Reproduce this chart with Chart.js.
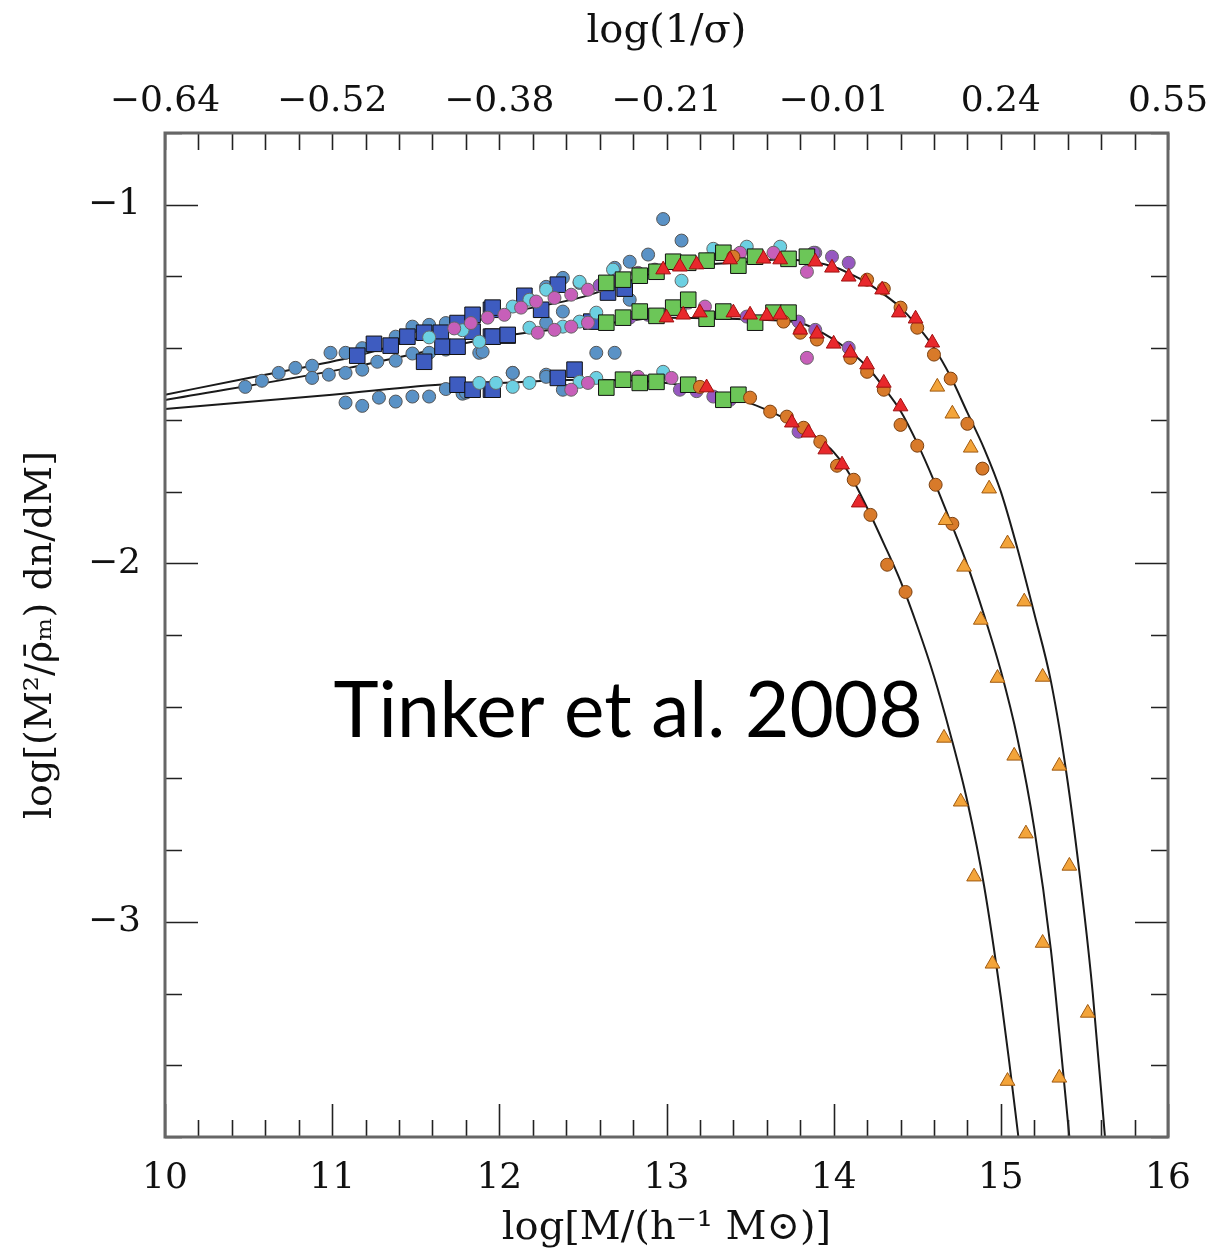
<!DOCTYPE html>
<html>
<head>
<meta charset="utf-8">
<script src="https://cdn.jsdelivr.net/npm/chart.js@4.4.1/dist/chart.umd.min.js"></script>
<style>
  body { margin: 0; background: #fff; }
  #wrap { width: 1217px; height: 1255px; }
</style>
</head>
<body>
<div id="wrap"><canvas id="hmf" width="1217" height="1255"></canvas></div>
<script>
// axis labels
var sigmaTickLabels = ['\u22120.64', '\u22120.52', '\u22120.38', '\u22120.21', '\u22120.01', '0.24', '0.55'];

// model curves  [log M, log f]
var curveTop = [[10,-1.53],[10.5,-1.483],[11.1,-1.427],[12,-1.307],[12.5,-1.257],[13,-1.181],[13.5,-1.159],[13.7,-1.153],
  [14.0,-1.173],[14.1,-1.193],[14.2,-1.218],[14.3,-1.25],[14.4,-1.287],[14.5,-1.338],[14.6,-1.399],[14.7,-1.48],
  [14.8,-1.58],[14.9,-1.68],[15.0,-1.8],[15.1,-1.96],[15.2,-2.14],[15.3,-2.33],[15.4,-2.61],[15.5,-2.98],
  [15.55,-3.2],[15.623,-3.6]];
var curveMid = [[10,-1.545],[11.1,-1.455],[12,-1.368],[12.5,-1.34],[13,-1.315],[13.5,-1.32],[13.8,-1.33],[14.0,-1.376],
  [14.1,-1.41],[14.2,-1.452],[14.3,-1.51],[14.4,-1.575],[14.5,-1.665],[14.6,-1.77],[14.7,-1.885],[14.8,-2.005],
  [14.9,-2.145],[15.0,-2.30],[15.1,-2.49],[15.2,-2.74],[15.3,-3.08],[15.35,-3.31],[15.41,-3.6]];
var curveLow = [[10,-1.57],[11,-1.53],[11.7,-1.50],[12,-1.497],[12.5,-1.488],[13,-1.497],[13.3,-1.524],[13.6,-1.572],
  [13.8,-1.62],[13.9,-1.65],[14.0,-1.69],[14.1,-1.755],[14.2,-1.845],[14.3,-1.945],[14.4,-2.05],[14.5,-2.175],
  [14.6,-2.315],[14.7,-2.48],[14.8,-2.665],[14.9,-2.90],[15.0,-3.21],[15.05,-3.39],[15.105,-3.6]];

// simulation points
var steelBlueCircles = [[10.48,-1.508],[10.58,-1.491],[10.68,-1.469],[10.78,-1.455],[10.88,-1.449],[10.88,-1.483],
  [10.99,-1.413],[10.98,-1.474],[11.08,-1.413],[11.08,-1.469],[11.18,-1.40],[11.18,-1.46],[11.27,-1.438],
  [11.38,-1.368],[11.38,-1.435],[11.48,-1.34],[11.48,-1.415],[11.58,-1.335],[11.58,-1.413],[11.68,-1.33],
  [11.68,-1.404],[11.08,-1.552],[11.18,-1.561],[11.28,-1.538],[11.38,-1.549],[11.48,-1.535],[11.58,-1.535],
  [11.68,-1.514],[11.78,-1.527],[11.88,-1.413],[11.9,-1.41],[11.8,-1.524],[12.08,-1.469],[12.28,-1.474],
  [12.38,-1.516],[12.08,-1.469],[12.28,-1.48],[12.28,-1.329],[12.38,-1.298],[12.28,-1.229],[12.38,-1.204],
  [12.48,-1.218],[12.69,-1.176],[12.78,-1.159],[12.78,-1.265],[12.89,-1.139],[12.98,-1.04],[13.09,-1.10],
  [12.58,-1.413],[12.69,-1.413]];
var blueSquares = [[11.15,-1.421],[11.25,-1.388],[11.35,-1.393],[11.45,-1.368],[11.55,-1.357],[11.65,-1.357],
  [11.75,-1.33],[11.84,-1.307],[11.95,-1.293],[11.55,-1.438],[11.66,-1.396],[11.75,-1.396],[11.84,-1.354],
  [11.95,-1.368],[12.05,-1.365],[11.75,-1.502],[11.84,-1.516],[11.95,-1.516],[11.96,-1.287],[12.15,-1.254],
  [12.25,-1.293],[12.35,-1.223],[12.65,-1.245],[12.75,-1.234],[11.96,-1.368],[12.05,-1.363],[12.55,-1.326],
  [11.96,-1.516],[12.35,-1.483],[12.45,-1.46]];
var cyanCircles = [[12.08,-1.284],[12.18,-1.265],[12.28,-1.237],[12.48,-1.215],[12.68,-1.181],[13.09,-1.212],
  [13.28,-1.123],[13.48,-1.117],[13.68,-1.117],[11.88,-1.382],[12.18,-1.343],[12.38,-1.34],[12.48,-1.326],
  [12.58,-1.301],[13.08,-1.293],[11.88,-1.497],[12.08,-1.508],[12.18,-1.497],[12.48,-1.494],[12.58,-1.483],
  [12.98,-1.466],[11.98,-1.497],[11.78,-1.35],[11.58,-1.37]];
var magentaCircles = [[11.93,-1.315],[12.03,-1.307],[12.13,-1.287],[12.22,-1.27],[12.33,-1.26],[12.43,-1.251],
  [12.53,-1.237],[12.83,-1.19],[12.93,-1.181],[13.44,-1.134],[13.64,-1.134],[13.84,-1.187],[12.23,-1.357],
  [12.33,-1.349],[12.43,-1.34],[12.53,-1.329],[13.13,-1.273],[13.23,-1.284],[13.84,-1.427],[12.43,-1.516],
  [12.53,-1.497],[12.83,-1.48],[13.03,-1.483],[11.83,-1.33],[11.73,-1.345]];
var purpleCircles = [[13.89,-1.134],[13.99,-1.145],[14.09,-1.162],[13.24,-1.153],[13.88,-1.134],[13.79,-1.326],
  [13.89,-1.349],[14.09,-1.399],[12.78,-1.315],[12.89,-1.307],[13.48,-1.312],[13.08,-1.516],[13.18,-1.52],
  [13.28,-1.535],[13.38,-1.544],[13.79,-1.633],[12.7,-1.21],[12.6,-1.225]];
var greenSquares = [[12.64,-1.218],[12.74,-1.209],[12.84,-1.198],[12.94,-1.187],[13.04,-1.159],[13.13,-1.162],
  [13.24,-1.156],[13.34,-1.134],[13.43,-1.170],[13.53,-1.145],[13.73,-1.151],[13.84,-1.145],[12.64,-1.329],
  [12.74,-1.315],[12.84,-1.298],[12.94,-1.31],[13.04,-1.287],[13.13,-1.265],[13.24,-1.318],[13.34,-1.298],
  [13.53,-1.329],[13.64,-1.301],[13.73,-1.301],[12.64,-1.51],[12.74,-1.488],[12.84,-1.497],[12.94,-1.494],
  [13.13,-1.502],[13.34,-1.544],[13.43,-1.53]];
var redTriangles = [[12.98,-1.181],[13.08,-1.173],[13.18,-1.167],[13.38,-1.153],[13.58,-1.151],[13.68,-1.153],
  [13.89,-1.159],[13.99,-1.176],[14.09,-1.201],[14.19,-1.215],[14.29,-1.237],[14.39,-1.301],[14.49,-1.318],
  [14.59,-1.385],[13.0,-1.315],[13.1,-1.307],[13.2,-1.301],[13.4,-1.301],[13.5,-1.307],[13.6,-1.31],
  [13.68,-1.307],[13.8,-1.349],[13.9,-1.36],[14.0,-1.388],[14.1,-1.413],[14.2,-1.446],[14.3,-1.497],
  [14.4,-1.563],[13.24,-1.51],[13.75,-1.608],[13.85,-1.636],[13.95,-1.683],[14.05,-1.725],[14.15,-1.831]];
var orangeCircles = [[14.2,-1.209],[14.3,-1.234],[14.4,-1.287],[14.5,-1.343],[14.6,-1.418],[14.7,-1.485],
  [14.8,-1.611],[14.89,-1.736],[14.61,-1.781],[14.71,-1.89],[13.7,-1.326],[13.8,-1.357],[13.9,-1.376],
  [14.1,-1.427],[14.2,-1.466],[14.3,-1.516],[14.4,-1.614],[14.5,-1.672],[13.72,-1.591],[13.82,-1.622],
  [13.92,-1.661],[14.02,-1.728],[14.12,-1.767],[14.22,-1.865],[14.32,-2.004],[14.43,-2.08],[13.4,-1.145],
  [13.2,-1.508],[13.5,-1.538],[13.62,-1.577]];
var lightOrangeTriangles = [[14.62,-1.508],[14.71,-1.583],[14.82,-1.678],[14.93,-1.792],[14.67,-1.88],
  [15.04,-1.945],[14.78,-2.01],[15.14,-2.107],[14.88,-2.158],[14.98,-2.32],[15.25,-2.317],[14.66,-2.487],
  [15.08,-2.537],[15.35,-2.565],[14.76,-2.665],[15.15,-2.754],[15.41,-2.844],[14.84,-2.874],[15.25,-3.059],
  [14.95,-3.117],[15.52,-3.254],[15.04,-3.444],[15.35,-3.435]];

function pts(arr) {
  return arr.map(function(p) { return { x: p[0], y: p[1] }; });
}

function lineSet(arr) {
  return {
    type: 'line', data: pts(arr), borderColor: '#1a1a1a', borderWidth: 2,
    pointRadius: 0, cubicInterpolationMode: 'monotone', fill: false, order: 20
  };
}

function pointSet(arr, style, fill, edge, r, ord) {
  return {
    type: 'scatter', data: pts(arr), pointStyle: style, backgroundColor: fill,
    borderColor: edge, borderWidth: 1, pointRadius: r, pointHoverRadius: r, order: ord
  };
}

var serif = '"DejaVu Serif", "Liberation Serif", serif';

function noSidePad(s) {
  s.paddingLeft = 0;
  s.paddingRight = 0;
}

// inward tick marks and frame, from the scales
var frameTicks = {
  id: 'frameTicks',
  afterDatasetsDraw: function(chart) {
    var ctx = chart.ctx, a = chart.chartArea;
    var xs = chart.scales.x, ys = chart.scales.y;
    ctx.save();
    ctx.strokeStyle = '#222';
    ctx.lineWidth = 1.6;
    ctx.beginPath();
    for (var i = 0; i <= 30; i++) {
      var v = 10 + i * 0.2;
      var px = Math.round(xs.getPixelForValue(v)) + 0.5;
      var major = (i % 5 === 0);
      ctx.moveTo(px, a.bottom); ctx.lineTo(px, a.bottom - (major ? 33 : 17));
      ctx.moveTo(px, a.top); ctx.lineTo(px, a.top + 17);
    }
    for (var j = 0; j <= 14; j++) {
      var w = -3.6 + j * 0.2;
      var py = Math.round(ys.getPixelForValue(w)) + 0.5;
      var maj = Math.abs(w - Math.round(w)) < 1e-6;
      ctx.moveTo(a.left, py); ctx.lineTo(a.left + (maj ? 33 : 17), py);
      ctx.moveTo(a.right, py); ctx.lineTo(a.right - (maj ? 33 : 17), py);
    }
    ctx.stroke();
    ctx.strokeStyle = '#666';
    ctx.lineWidth = 3;
    ctx.strokeRect(a.left, a.top, a.right - a.left, a.bottom - a.top);

    // label text
    var tx = xs.getPixelForValue(12.77), ty = ys.getPixelForValue(-2.417);
    ctx.font = '80px Lato, "Open Sans", sans-serif';
    var size = 80 * 589 / ctx.measureText('Tinker et al. 2008').width;
    ctx.font = size + 'px Lato, "Open Sans", sans-serif';
    ctx.fillStyle = '#000';
    ctx.textAlign = 'center';
    ctx.textBaseline = 'middle';
    ctx.fillText('Tinker et al. 2008', tx, ty);
    ctx.restore();
  }
};

var datasets = [
  pointSet(steelBlueCircles, 'circle', '#5a92c6', '#555', 6.5, 9),
  pointSet(blueSquares, 'rect', '#3e5cc0', '#111', 11, 8),
  pointSet(cyanCircles, 'circle', '#6cd0e2', '#666', 6.5, 7),
  pointSet(magentaCircles, 'circle', '#c75fb9', '#666', 6.5, 6),
  pointSet(purpleCircles, 'circle', '#9658c0', '#666', 6.5, 5),
  pointSet(greenSquares, 'rect', '#6cc658', '#111', 11, 4),
  pointSet(orangeCircles, 'circle', '#d87a2a', '#7a4010', 6.5, 3),
  pointSet(redTriangles, 'triangle', '#e8282c', '#a01010', 8.5, 2),
  pointSet(lightOrangeTriangles, 'triangle', '#f3a43a', '#a05a10', 8.5, 1),
  lineSet(curveTop),
  lineSet(curveMid),
  lineSet(curveLow)
];

var ctx = document.getElementById('hmf').getContext('2d');
window.hmfChart = new Chart(ctx, {
  type: 'scatter',
  data: { datasets: datasets },
  options: {
    responsive: false,
    animation: false,
    events: [],
    layout: { padding: { left: 0, right: 49, top: 0, bottom: 0 } },
    plugins: { legend: { display: false }, tooltip: { enabled: false } },
    scales: {
      x: {
        type: 'linear', position: 'bottom', min: 10, max: 16,
        afterFit: function(s) { s.height = 118; noSidePad(s); },
        grid: { display: false, drawTicks: false },
        border: { display: false },
        ticks: { stepSize: 1, padding: 20, color: '#111', font: { family: serif, size: 36 },
          maxRotation: 0, autoSkip: false },
        title: { display: true, text: 'log[M/(h\u207B\u00B9 M\u2299)]', color: '#111',
          font: { family: serif, size: 40 }, padding: { top: 0, bottom: 2 } }
      },
      xTop: {
        type: 'linear', position: 'top', min: 10, max: 16,
        afterFit: function(s) { s.height = 133; noSidePad(s); },
        grid: { display: false, drawTicks: false },
        border: { display: false },
        ticks: { stepSize: 1, padding: 10, color: '#111', font: { family: serif, size: 36 },
          maxRotation: 0, autoSkip: false,
          callback: function(v) { return sigmaTickLabels[Math.round(v - 10)]; } },
        title: { display: true, text: 'log(1/\u03C3)', color: '#111',
          font: { family: serif, size: 40 }, padding: { top: 8, bottom: 0 } }
      },
      y: {
        type: 'linear', position: 'left', min: -3.6, max: -0.8,
        afterFit: function(s) { s.width = 165; },
        grid: { display: false, drawTicks: false },
        border: { display: false },
        ticks: { stepSize: 1, padding: 24, color: '#111', font: { family: serif, size: 36 },
          callback: function(v) {
            if (Math.abs(v - Math.round(v)) > 1e-6) return '';
            return '\u2212' + Math.abs(Math.round(v));
          } },
        title: { display: true, text: 'log[(M\u00B2/\u03C1\u0304\u2098) dn/dM]', color: '#111',
          font: { family: serif, size: 38 }, padding: { top: 18, bottom: 0 } }
      }
    }
  },
  plugins: [frameTicks]
});
</script>
</body>
</html>
